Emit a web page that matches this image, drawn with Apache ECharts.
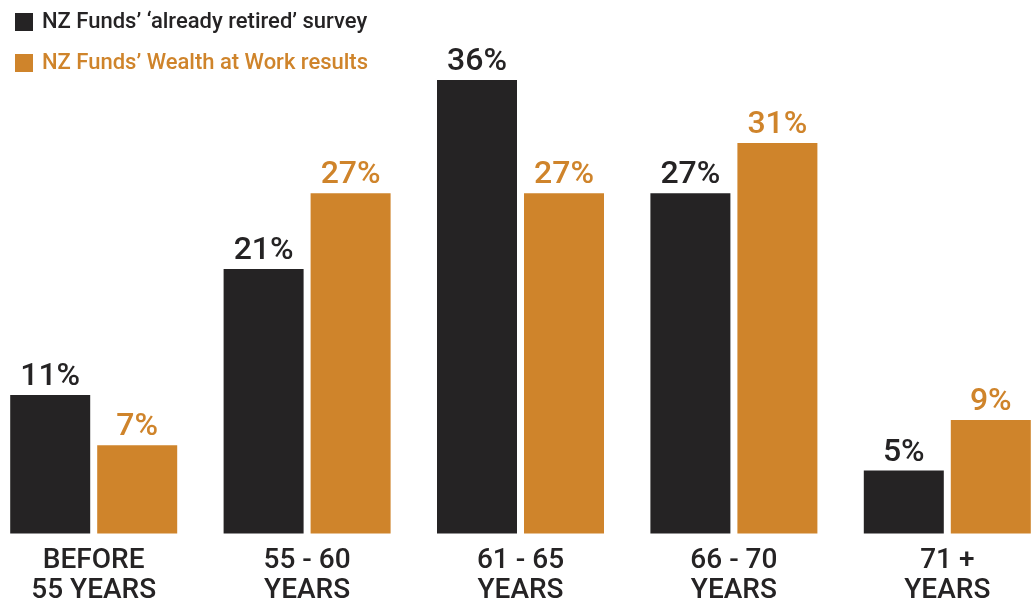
<!DOCTYPE html>
<html>
<head>
<meta charset="utf-8">
<script src="https://cdn.jsdelivr.net/npm/echarts@6/dist/echarts.min.js"></script>
<style>
  html, body { margin: 0; padding: 0; background: #fff; }
  #chart { width: 1035px; height: 601px; }
</style>
</head>
<body>
<div id="chart"></div>
<script>
// * Age groups at retirement
const categories = ["BEFORE\n55 YEARS", "55 - 60\nYEARS", "61 - 65\nYEARS", "66 - 70\nYEARS", "71 +\nYEARS"];
// * Survey results in percent
const retiredSurvey = [11, 21, 36, 27, 5];
const wealthAtWork = [7, 27, 27, 31, 9];
const seriesNames = ["NZ Funds\u2019 \u2018already retired\u2019 survey", "NZ Funds\u2019 Wealth at Work results"];

const darkColor = "#252324";
const orangeColor = "#cf842b";
const fontFamily = "Roboto, 'Noto Sans', sans-serif";

const myChart = echarts.init(document.getElementById("chart"));

const option = {
  animation: false,
  legend: {
    orient: "vertical",
    left: 10,
    top: 6,
    itemWidth: 18,
    itemHeight: 18,
    itemGap: 19,
    icon: "rect",
    data: [
      { name: seriesNames[0], textStyle: { color: darkColor } },
      { name: seriesNames[1], textStyle: { color: orangeColor } },
    ],
    textStyle: {
      fontFamily: fontFamily,
      fontSize: 22,
      fontWeight: 500,
      padding: [0, 0, 0, 4],
    },
  },
  // ! No outer bounds, the grid is placed exactly
  grid: {
    left: -13,
    right: -19,
    top: 29.5,
    bottom: 67.5,
    outerBoundsMode: "none",
  },
  xAxis: {
    type: "category",
    data: categories,
    axisLine: { show: false },
    axisTick: { show: false },
    axisLabel: {
      margin: 12,
      fontFamily: fontFamily,
      fontSize: 28,
      fontWeight: 500,
      lineHeight: 30,
      color: darkColor,
    },
  },
  yAxis: {
    type: "value",
    min: 0,
    max: 40,
    show: false,
    splitLine: { show: false },
  },
  series: [
    {
      name: seriesNames[0],
      type: "bar",
      data: retiredSurvey,
      barWidth: 80,
      barGap: "8.75%",
      itemStyle: { color: darkColor },
      label: {
        show: true,
        position: "top",
        distance: 2,
        formatter: "{c}%",
        fontFamily: fontFamily,
        fontSize: 32,
        fontWeight: 500,
        color: darkColor,
      },
    },
    {
      name: seriesNames[1],
      type: "bar",
      data: wealthAtWork,
      barWidth: 80,
      barGap: "8.75%",
      itemStyle: { color: orangeColor },
      label: {
        show: true,
        position: "top",
        distance: 2,
        formatter: "{c}%",
        fontFamily: fontFamily,
        fontSize: 32,
        fontWeight: 500,
        color: orangeColor,
      },
    },
  ],
};

myChart.setOption(option);
</script>
</body>
</html>
